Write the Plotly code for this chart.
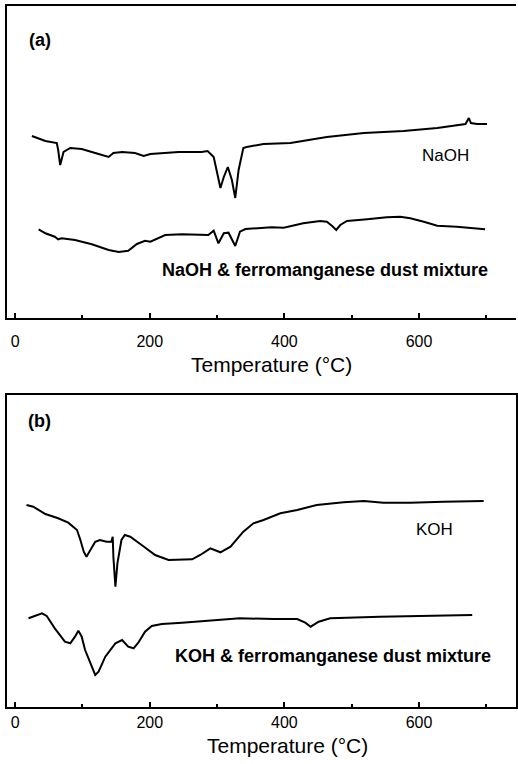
import plotly.graph_objects as go

# ---- Panel (a): NaOH ----
naoh_T = [25, 45, 62, 64, 67, 72, 82, 99, 119, 139, 146, 159, 178, 191, 201, 223, 243, 277, 286, 295,
          300, 305, 310, 316, 322, 327, 332, 339, 344, 369, 409, 463, 518, 577, 627, 651, 669, 674, 677, 686, 701]
naoh_v = [182, 177, 175, 168, 153, 166, 170, 169, 165, 161, 165, 166, 165, 162, 164, 165, 166, 166, 167, 161,
          145, 130, 141, 151, 138, 120, 148, 170, 171, 174, 175, 181, 185, 187, 190, 192, 194, 200, 195, 194, 194]

naoh_mix_T = [35, 45, 59, 64, 69, 89, 114, 139, 154, 168, 181, 193, 201, 211, 223, 248, 272, 287, 295, 302,
              310, 317, 327, 334, 342, 362, 381, 399, 428, 453, 463, 471, 477, 483, 493, 523, 552, 572, 587, 607,
              627, 656, 698]
naoh_mix_v = [88.7, 84.7, 81.3, 78.7, 79.7, 78, 73.7, 68, 66, 67.3, 74, 77.3, 76.3, 79.7, 83, 83.7, 83.7, 83, 87.3, 74.7,
              84.7, 85.3, 72, 86.3, 89, 89.7, 90.7, 90.3, 94.7, 97, 96.3, 92, 88, 93, 97, 98.7, 100.7, 101.3, 99.7, 96.3,
              92.3, 91.3, 88.7]

# ---- Panel (b): KOH ----
koh_T = [17, 27, 45, 64, 79, 92, 97, 102, 106, 110, 119, 126, 136, 143, 145, 146, 149, 152, 158, 163,
         171, 188, 208, 228, 263, 275, 290, 305, 320, 339, 354, 369, 394, 419, 448, 488, 518, 547, 587, 636, 696]
koh_v = [202, 200.3, 193, 188.7, 184.3, 177, 167, 155.3, 150.3, 155.3, 165.3, 167, 165.3, 165.3, 170.3, 150.3, 120.3, 143.7, 167, 172,
         170.3, 162, 152, 147, 147.7, 152, 158.7, 154.7, 160.3, 175.3, 183.7, 187, 193.7, 197, 202, 204.7, 206, 204.3, 204.3, 205.3, 206]

koh_mix_T = [20, 35, 40, 47, 59, 74, 82, 89, 94, 99, 104, 111, 119, 124, 134, 149, 159, 168, 176, 183,
             193, 203, 218, 248, 297, 334, 384, 419, 431, 439, 451, 468, 542, 632, 679]
koh_mix_v = [88.7, 92, 93.7, 91, 78.7, 65.3, 63.7, 70.3, 76.3, 70.3, 57, 45.3, 32, 35.3, 50.3, 63.7, 67, 60.3, 58.7, 64.3,
             75.3, 81, 83, 84.3, 87, 88.7, 88, 88, 84.3, 80.3, 85.3, 88.7, 90.3, 91, 92]

tick_vals = [0, 200, 400, 600]
tick_text = ["0", "200", "400", "600"]
x_title = "Temperature (°C)"

W, H = 518, 764
FONT = "Liberation Sans, Arial, sans-serif"

def py(p):
    return 1 - p / H

fig = go.Figure()
line = dict(color="black", width=2)
fig.add_trace(go.Scatter(x=naoh_T, y=naoh_v, mode="lines", line=line, xaxis="x", yaxis="y", showlegend=False))
fig.add_trace(go.Scatter(x=naoh_mix_T, y=naoh_mix_v, mode="lines", line=line, xaxis="x", yaxis="y", showlegend=False))
fig.add_trace(go.Scatter(x=koh_T, y=koh_v, mode="lines", line=line, xaxis="x2", yaxis="y2", showlegend=False))
fig.add_trace(go.Scatter(x=koh_mix_T, y=koh_mix_v, mode="lines", line=line, xaxis="x2", yaxis="y2", showlegend=False))

xdom = [7 / W, 516 / W]
xrange = [-12, 744]

def xax(anchor, standoff):
    return dict(domain=xdom, range=xrange, anchor=anchor, showline=True, linecolor="black", linewidth=2,
                mirror=True, ticks="inside", ticklen=5, tickwidth=1.5, tickcolor="black",
                tickvals=tick_vals, ticktext=tick_text, showgrid=False, zeroline=False,
                tickfont=dict(family=FONT, size=16, color="black"), ticklabelstandoff=standoff,
                minor=dict(dtick=100, tick0=0, ticks="inside", ticklen=3, tickcolor="black", tickwidth=1.5))

def yax(dom, anchor, mirror):
    return dict(domain=dom, range=[0, 312], anchor=anchor, showline=True, linecolor="black", linewidth=2,
                mirror=mirror, ticks="", showticklabels=False, showgrid=False, zeroline=False)

fig.update_layout(
    width=W, height=H, margin=dict(l=0, r=0, t=0, b=0),
    paper_bgcolor="white", plot_bgcolor="white",
    xaxis=xax("y", 8),
    yaxis=yax([py(318), py(6)], "x", False),
    xaxis2=xax("y2", 0),
    yaxis2=yax([py(707), py(395)], "x2", True),
)

ann = [
    dict(text="<b>(a)</b>", x=37, y=278, xref="x", yref="y", size=18),
    dict(text="NaOH", x=639, y=163, xref="x", yref="y", size=17),
    dict(text="<b>NaOH &amp; ferromanganese dust mixture</b>", x=461, y=48, xref="x", yref="y", size=18),
    dict(text=x_title, x=271 / W, y=py(364), xref="paper", yref="paper", size=21),
    dict(text="<b>(b)</b>", x=37, y=286, xref="x2", yref="y2", size=18),
    dict(text="KOH", x=623, y=178, xref="x2", yref="y2", size=17),
    dict(text="<b>KOH &amp; ferromanganese dust mixture</b>", x=472, y=51.5, xref="x2", yref="y2", size=18),
    dict(text=x_title, x=287 / W, y=py(745), xref="paper", yref="paper", size=21),
]
for a in ann:
    fig.add_annotation(text=a["text"], x=a["x"], y=a["y"], xref=a["xref"], yref=a["yref"],
                       showarrow=False, xanchor="center", yanchor="middle",
                       font=dict(family=FONT, size=a["size"], color="black"))

fig.write_html("out.html")
